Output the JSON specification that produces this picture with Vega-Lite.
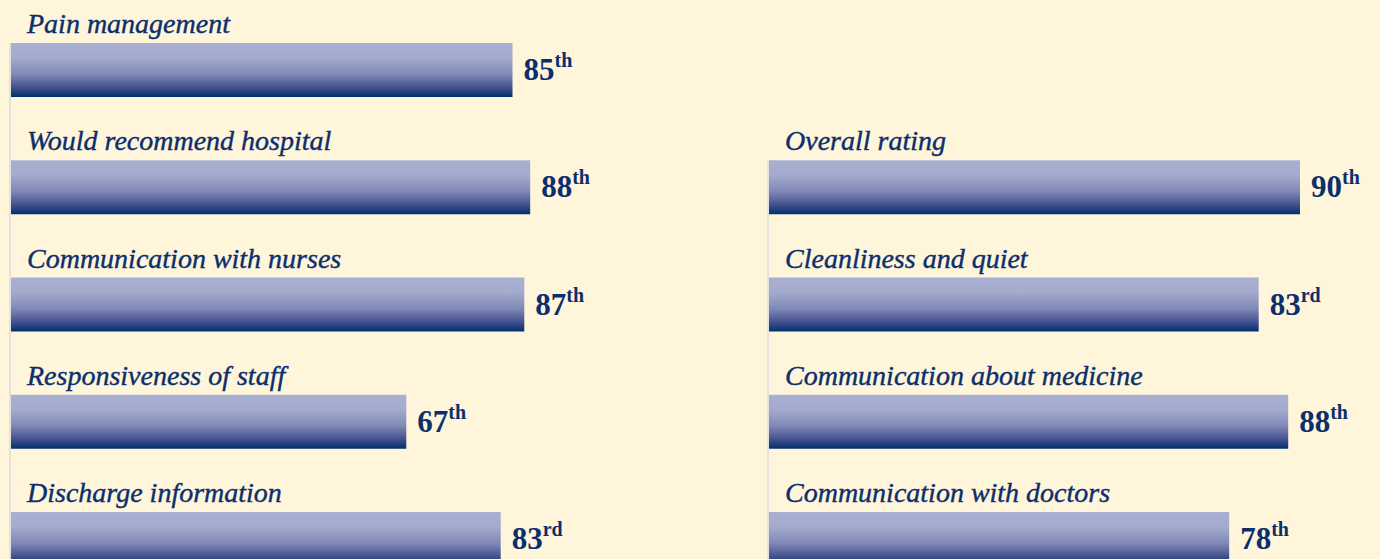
{
  "$schema": "https://vega.github.io/schema/vega-lite/v6.json",
  "background": "#FFF5DB",
  "padding": {"left": 9, "top": 11, "right": 20, "bottom": 0},
  "config": {"view": {"stroke": null}},
  "datasets": {
    "rows": [
      {"col": "L", "row": 1, "label": "Pain management", "value": 85, "suffix": "th"},
      {"col": "L", "row": 2, "label": "Would recommend hospital", "value": 88, "suffix": "th"},
      {"col": "L", "row": 3, "label": "Communication with nurses", "value": 87, "suffix": "th"},
      {"col": "L", "row": 4, "label": "Responsiveness of staff", "value": 67, "suffix": "th"},
      {"col": "L", "row": 5, "label": "Discharge information", "value": 83, "suffix": "rd"},
      {"col": "R", "row": 2, "label": "Overall rating", "value": 90, "suffix": "th"},
      {"col": "R", "row": 3, "label": "Cleanliness and quiet", "value": 83, "suffix": "rd"},
      {"col": "R", "row": 4, "label": "Communication about medicine", "value": 88, "suffix": "th"},
      {"col": "R", "row": 5, "label": "Communication with doctors", "value": 78, "suffix": "th"}
    ]
  },
  "spacing": 166,
  "hconcat": [
    {
      "data": {"name": "rows"},
      "transform": [{"filter": "datum.col === 'L'"}],
      "width": 590,
      "height": {"step": 117.25},
      "layer": [
        {
          "transform": [{"aggregate": [{"op": "min", "field": "row", "as": "r0"}, {"op": "max", "field": "row", "as": "r1"}], "groupby": ["col"]}],
          "mark": {"type": "rule", "stroke": "#E4E2DE", "strokeWidth": 2, "xOffset": -1},
          "encoding": {
            "x": {"datum": 0, "type": "quantitative", "scale": {"domain": [0, 100]}, "axis": null},
            "y": {"field": "r0", "type": "ordinal", "bandPosition": 0, "scale": {"domain": [1, 2, 3, 4, 5], "paddingInner": 0.5394, "paddingOuter": 0}, "axis": null},
            "y2": {"field": "r1", "bandPosition": 1}
          }
        },
        {
          "mark": {"type": "bar", "color": {"gradient": "linear", "x1": 0, "y1": 0, "x2": 0, "y2": 1, "stops": [{"offset": 0, "color": "#AAB0D2"}, {"offset": 0.28, "color": "#A4AACD"}, {"offset": 0.58, "color": "#7F88B6"}, {"offset": 0.82, "color": "#44528E"}, {"offset": 1, "color": "#00306E"}]}},
          "encoding": {
            "x": {"field": "value", "type": "quantitative", "scale": {"domain": [0, 100]}, "axis": null},
            "y": {"field": "row", "type": "ordinal", "axis": null}
          }
        },
        {
          "mark": {"type": "text", "align": "left", "baseline": "alphabetic", "dx": 16, "dy": -10, "font": "Liberation Serif", "fontStyle": "italic", "fontSize": 28, "color": "#0B2F6D", "stroke": "#0B2F6D", "strokeWidth": 0.4},
          "encoding": {
            "x": {"datum": 0, "type": "quantitative", "axis": null},
            "y": {"field": "row", "type": "ordinal", "bandPosition": 0, "axis": null},
            "text": {"field": "label"}
          }
        },
        {
          "mark": {"type": "text", "align": "left", "baseline": "alphabetic", "dx": 11, "dy": 10, "font": "Liberation Serif", "fontWeight": "bold", "fontSize": 31, "color": "#0B2F6D"},
          "encoding": {
            "x": {"field": "value", "type": "quantitative", "axis": null},
            "y": {"field": "row", "type": "ordinal", "axis": null},
            "text": {"field": "value"}
          }
        },
        {
          "mark": {"type": "text", "align": "left", "baseline": "alphabetic", "dx": 42, "dy": -3, "font": "Liberation Serif", "fontWeight": "bold", "fontSize": 20, "color": "#0B2F6D"},
          "encoding": {
            "x": {"field": "value", "type": "quantitative", "axis": null},
            "y": {"field": "row", "type": "ordinal", "axis": null},
            "text": {"field": "suffix"}
          }
        }
      ]
    },
    {
      "data": {"name": "rows"},
      "transform": [{"filter": "datum.col === 'R'"}],
      "width": 590,
      "height": {"step": 117.25},
      "layer": [
        {
          "transform": [{"aggregate": [{"op": "min", "field": "row", "as": "r0"}, {"op": "max", "field": "row", "as": "r1"}], "groupby": ["col"]}],
          "mark": {"type": "rule", "stroke": "#E4E2DE", "strokeWidth": 2, "xOffset": -1},
          "encoding": {
            "x": {"datum": 0, "type": "quantitative", "scale": {"domain": [0, 100]}, "axis": null},
            "y": {"field": "r0", "type": "ordinal", "bandPosition": 0, "scale": {"domain": [1, 2, 3, 4, 5], "paddingInner": 0.5394, "paddingOuter": 0}, "axis": null},
            "y2": {"field": "r1", "bandPosition": 1}
          }
        },
        {
          "mark": {"type": "bar", "color": {"gradient": "linear", "x1": 0, "y1": 0, "x2": 0, "y2": 1, "stops": [{"offset": 0, "color": "#AAB0D2"}, {"offset": 0.28, "color": "#A4AACD"}, {"offset": 0.58, "color": "#7F88B6"}, {"offset": 0.82, "color": "#44528E"}, {"offset": 1, "color": "#00306E"}]}},
          "encoding": {
            "x": {"field": "value", "type": "quantitative", "scale": {"domain": [0, 100]}, "axis": null},
            "y": {"field": "row", "type": "ordinal", "axis": null}
          }
        },
        {
          "mark": {"type": "text", "align": "left", "baseline": "alphabetic", "dx": 16, "dy": -10, "font": "Liberation Serif", "fontStyle": "italic", "fontSize": 28, "color": "#0B2F6D", "stroke": "#0B2F6D", "strokeWidth": 0.4},
          "encoding": {
            "x": {"datum": 0, "type": "quantitative", "axis": null},
            "y": {"field": "row", "type": "ordinal", "bandPosition": 0, "axis": null},
            "text": {"field": "label"}
          }
        },
        {
          "mark": {"type": "text", "align": "left", "baseline": "alphabetic", "dx": 11, "dy": 10, "font": "Liberation Serif", "fontWeight": "bold", "fontSize": 31, "color": "#0B2F6D"},
          "encoding": {
            "x": {"field": "value", "type": "quantitative", "axis": null},
            "y": {"field": "row", "type": "ordinal", "axis": null},
            "text": {"field": "value"}
          }
        },
        {
          "mark": {"type": "text", "align": "left", "baseline": "alphabetic", "dx": 42, "dy": -3, "font": "Liberation Serif", "fontWeight": "bold", "fontSize": 20, "color": "#0B2F6D"},
          "encoding": {
            "x": {"field": "value", "type": "quantitative", "axis": null},
            "y": {"field": "row", "type": "ordinal", "axis": null},
            "text": {"field": "suffix"}
          }
        }
      ]
    }
  ]
}
